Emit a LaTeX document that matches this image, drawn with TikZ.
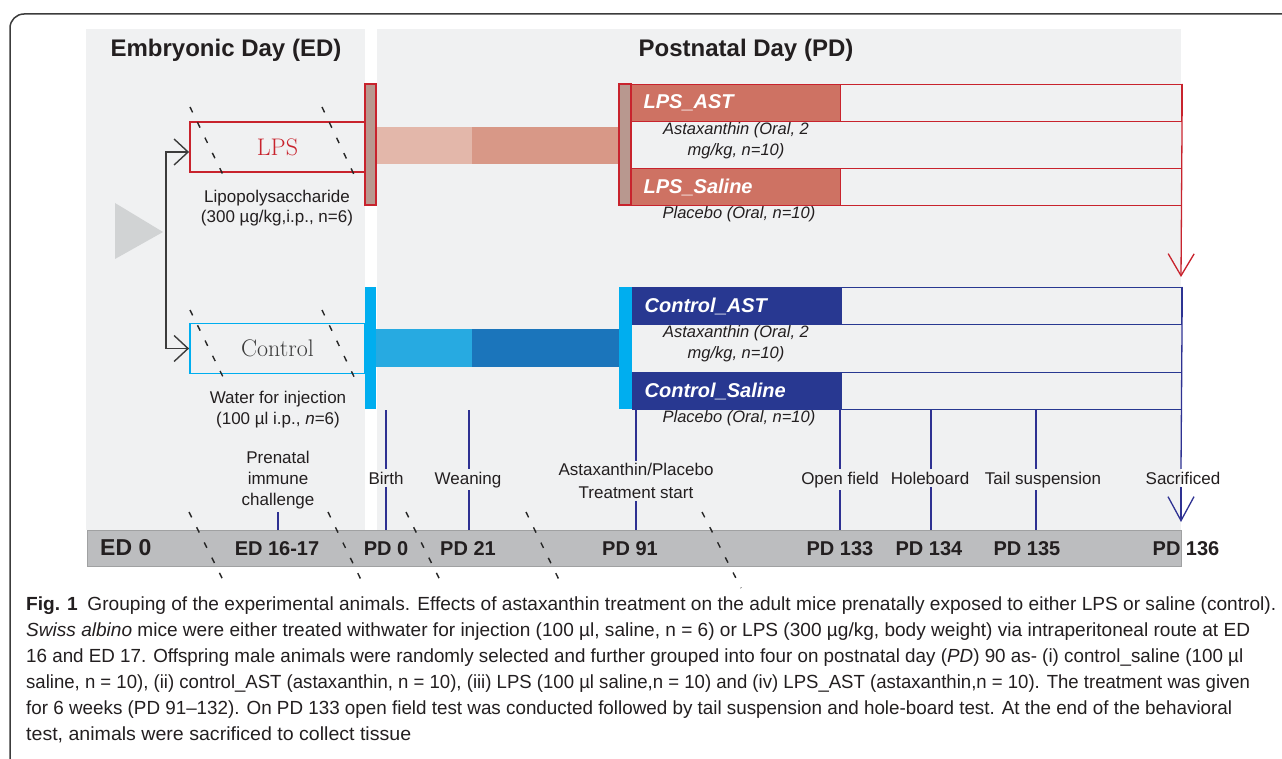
\documentclass[tikz,border=0pt]{standalone}
\usepackage{fontspec}
\usepackage{graphicx}
\newfontfamily\arial{Liberation Sans}
\usetikzlibrary{arrows.meta}
\definecolor{bggray}{RGB}{240,241,242}
\definecolor{tlgray}{RGB}{188,189,191}
\definecolor{trigray}{RGB}{209,211,212}
\definecolor{lpsred}{RGB}{200,35,45}
\definecolor{brownbar}{RGB}{184,152,143}
\definecolor{pinklight}{RGB}{227,183,170}
\definecolor{pinkdark}{RGB}{216,152,135}
\definecolor{salmon}{RGB}{206,114,99}
\definecolor{cyanc}{RGB}{0,174,239}
\definecolor{bluelight}{RGB}{39,170,225}
\definecolor{bluedark}{RGB}{27,117,187}
\definecolor{navy}{RGB}{40,56,145}
\definecolor{evnavy}{RGB}{46,49,146}
\definecolor{txtdark}{RGB}{35,31,32}
\definecolor{framegray}{RGB}{60,60,60}
\begin{document}
\begin{tikzpicture}[x=1pt,y=-1pt,
  header/.style={font=\arial\bfseries\fontsize{24}{28}\selectfont,text=txtdark,anchor=base,inner sep=0pt},
  grpbox/.style={line width=1.8pt,minimum width=175pt,minimum height=50pt,inner sep=0pt,font=\fontsize{24}{27}\selectfont},
  desc/.style={font=\arial\fontsize{17}{20}\selectfont,text=txtdark,align=center,inner sep=0pt},
  rowdesc/.style={font=\arial\itshape\fontsize{16.5}{21}\selectfont,text=txtdark,align=center,inner sep=0pt},
  rowlabel/.style={anchor=north west,minimum height=37pt,text width=185pt,inner xsep=12pt,inner ysep=0pt,align=left,text=white,font=\arial\bfseries\itshape\fontsize{20}{24}\selectfont,line width=1.3pt},
  rowframe/.style={anchor=north west,minimum height=37pt,inner sep=0pt,line width=1.3pt},
  evlabel/.style={font=\arial\fontsize{17}{21}\selectfont,text=txtdark,align=center,inner sep=2.5pt},
  tllabel/.style={font=\arial\bfseries\fontsize{20}{24}\selectfont,text=txtdark,anchor=base,inner sep=0pt},
  evline/.style={draw=evnavy,line width=1.3pt},
  dsh/.style={draw=black!85,line width=1.4pt,dash pattern=on 6pt off 11pt},
  conn/.style={draw=framegray,line width=1.4pt,-{Straight Barb[length=14pt,width=26pt,line width=1.4pt]}},
  captext/.style={anchor=base west,inner sep=0pt,font=\arial\fontsize{19}{22}\selectfont,text=txtdark}
]
\useasboundingbox (0,0) rectangle (1282,759);
\fill[white] (0,0) rectangle (1282,759);
% frame
\draw[framegray,line width=1.5pt,rounded corners=14pt] (10,762) -- (10,14) -- (1285,14);
% panels
\fill[bggray] (86,29) rectangle (365,530);
\fill[bggray] (377,29) rectangle (1181,530);
% timeline bar
\node[fill=tlgray,draw=tlgray!85!black,line width=0.6pt,minimum width=1094pt,minimum height=36pt,anchor=north west,inner sep=0pt] (timeline) at (87,530) {};
% headers
\node[header] (hdED) at (226,57) {Embryonic Day (ED)};
\node[header] (hdPD) at (746,57) {Postnatal Day (PD)};
% triangle
\fill[trigray] (115,203) -- (115,259) -- (163,232) -- cycle;
% bands
\fill[pinklight] (376,127) rectangle (472,164);
\fill[pinkdark] (472,127) rectangle (619,164);
\fill[bluelight] (376,329) rectangle (472,367);
\fill[bluedark] (472,329) rectangle (619,367);
% group boxes
\node[grpbox,draw=lpsred,text=lpsred] (lpsbox) at (277.5,147) {LPS};
\node[grpbox,draw=cyanc,text=framegray] (ctlbox) at (277.5,348.5) {Control};
\coordinate (branch) at (166,250);
\draw[conn] (branch) |- ([yshift=-5pt]lpsbox.west);
\draw[conn] (branch) |- (ctlbox.west);
% rows
\node[rowlabel,fill=salmon,draw=lpsred] (lpsast) at (631,84) {LPS\_AST};
\node[rowframe,draw=lpsred,minimum width=550pt] (lpsastrow) at (631,84) {};
\node[rowlabel,fill=salmon,draw=lpsred] (lpssal) at (631,168) {LPS\_Saline};
\node[rowframe,draw=lpsred,minimum width=550pt] (lpssalrow) at (631,168) {};
\node[rowlabel,fill=navy,draw=navy] (ctlast) at (632,287) {Control\_AST};
\node[rowframe,draw=navy,minimum width=549pt] (ctlastrow) at (632,287) {};
\node[rowlabel,fill=navy,draw=navy] (ctlsal) at (632,372) {Control\_Saline};
\node[rowframe,draw=navy,minimum width=549pt] (ctlsalrow) at (632,372) {};
% bars
\filldraw[fill=brownbar,draw=lpsred,line width=1.3pt] (365,84) rectangle (376,205);
\filldraw[fill=brownbar,draw=lpsred,line width=1.3pt] (619,84) rectangle (631,205);
\fill[cyanc] (365,287) rectangle (376,409);
\fill[cyanc] (619,287) rectangle (632,409);
% descriptions
\node[desc] (lpsdesc) at (277,208) {Lipopolysaccharide\\(300 µg/kg,i.p., n=6)};
\node[desc,font=\arial\fontsize{17}{21}\selectfont] (ctldesc) at (278,410) {Water for injection\\(100 µl i.p., \textit{n}=6)};
\node[rowdesc] (lpsastdesc) at (736,140.5) {Astaxanthin (Oral, 2\\mg/kg, n=10)};
\node[rowdesc,anchor=base] (lpssaldesc) at (739,219) {Placebo (Oral, n=10)};
\node[rowdesc] (ctlastdesc) at (736,343.5) {Astaxanthin (Oral, 2\\mg/kg, n=10)};
\node[rowdesc,anchor=base] (ctlsaldesc) at (739,422) {Placebo (Oral, n=10)};
% red end arrow
\coordinate (redTip) at (1181,277);
\draw[draw=lpsred,line width=1.3pt,-{Straight Barb[length=22pt,width=26pt,line width=1.3pt]}] (lpsastrow.north east) -- (redTip);
% event labels
\coordinate (xPren) at (278,530);
\coordinate (xBirth) at (386,530);
\coordinate (xWean) at (469,530);
\coordinate (xTreat) at (636,530);
\coordinate (xOpen) at (840,530);
\coordinate (xHole) at (931,530);
\coordinate (xTail) at (1036,530);
\coordinate (xSac) at (1181,530);
\coordinate (sacTip) at (1181,522);
\node[evlabel] (lbPren) at (278,480.5) {Prenatal\\immune\\challenge};
\node[evlabel,anchor=base] (lbBirth) at (386,484) {Birth};
\node[evlabel,anchor=base] (lbWean) at (468,484) {Weaning};
\node[evlabel,font=\arial\fontsize{17}{23}\selectfont] (lbTreat) at (636,481) {Astaxanthin/Placebo\\Treatment start};
\node[evlabel,anchor=base] (lbOpen) at (840,484) {Open field};
\node[evlabel,anchor=base] (lbHole) at (930,484) {Holeboard};
\node[evlabel,anchor=base] (lbTail) at (1043,484) {Tail suspension};
\node[evlabel,anchor=base] (lbSac) at (1183,484) {Sacrificed};
\draw[evline] (lbPren.south -| xPren) -- (xPren);
\foreach \ev in {Birth,Wean,Treat,Open,Hole,Tail}{
  \draw[evline] (ctlsalrow.south -| x\ev) -- (lb\ev.north -| x\ev);
  \draw[evline] (lb\ev.south -| x\ev) -- (x\ev);
}
\draw[evline] (ctlastrow.north east) -- (lbSac.north -| xSac);
\draw[evline,-{Straight Barb[length=24pt,width=26pt,line width=1.3pt]}] (lbSac.south -| xSac) -- (sacTip);
% timeline labels
\node[tllabel,anchor=base west,font=\arial\bfseries\fontsize{23}{26}\selectfont] (tED0) at (100,555) {ED 0};
\node[tllabel] (tED16) at (277,555) {ED 16-17};
\node[tllabel] (tPD0) at (386,555) {PD 0};
\node[tllabel] (tPD21) at (468,555) {PD 21};
\node[tllabel] (tPD91) at (630,555) {PD 91};
\node[tllabel] (tPD133) at (840,555) {PD 133};
\node[tllabel] (tPD134) at (929,555) {PD 134};
\node[tllabel] (tPD135) at (1027,555) {PD 135};
\node[tllabel] (tPD136) at (1186,555) {PD 136};
% dashed diagonals
\draw[dsh] (190,107) -- (227,183);
\draw[dsh] (322,107) -- (358,183);
\draw[dsh] (190,310) -- (227,385);
\draw[dsh] (322,310) -- (358,385);
\draw[dsh] (189,512) -- (227,588);
\draw[dsh] (328,512) -- (365,588);
\draw[dsh] (406,512) -- (444,588);
\draw[dsh] (526,512) -- (563,588);
\draw[dsh] (702,512) -- (741,588);
% caption
\node[captext] (cap1) at (26,610) {\resizebox{1250pt}{\height}{\textbf{Fig. 1}\hspace{0.5em}Grouping of the experimental animals. Effects of astaxanthin treatment on the adult mice prenatally exposed to either LPS or saline (control).}};
\node[captext] (cap2) at (26,636) {\resizebox{1224pt}{\height}{\textit{Swiss albino} mice were either treated withwater for injection (100 µl, saline, n = 6) or LPS (300 µg/kg, body weight) via intraperitoneal route at ED}};
\node[captext] (cap3) at (26,662) {\resizebox{1217pt}{\height}{16 and ED 17. Offspring male animals were randomly selected and further grouped into four on postnatal day (\textit{PD}) 90 as- (i) control\_saline (100 µl}};
\node[captext] (cap4) at (26,688) {\resizebox{1224pt}{\height}{saline, n = 10), (ii) control\_AST (astaxanthin, n = 10), (iii) LPS (100 µl saline,n = 10) and (iv) LPS\_AST (astaxanthin,n = 10). The treatment was given}};
\node[captext] (cap5) at (26,714) {\resizebox{1206pt}{\height}{for 6 weeks (PD 91–132). On PD 133 open field test was conducted followed by tail suspension and hole-board test. At the end of the behavioral}};
\node[captext] (cap6) at (26,740) {\scalebox{1.03}[1]{test, animals were sacrificed to collect tissue}};
\end{tikzpicture}
\end{document}
